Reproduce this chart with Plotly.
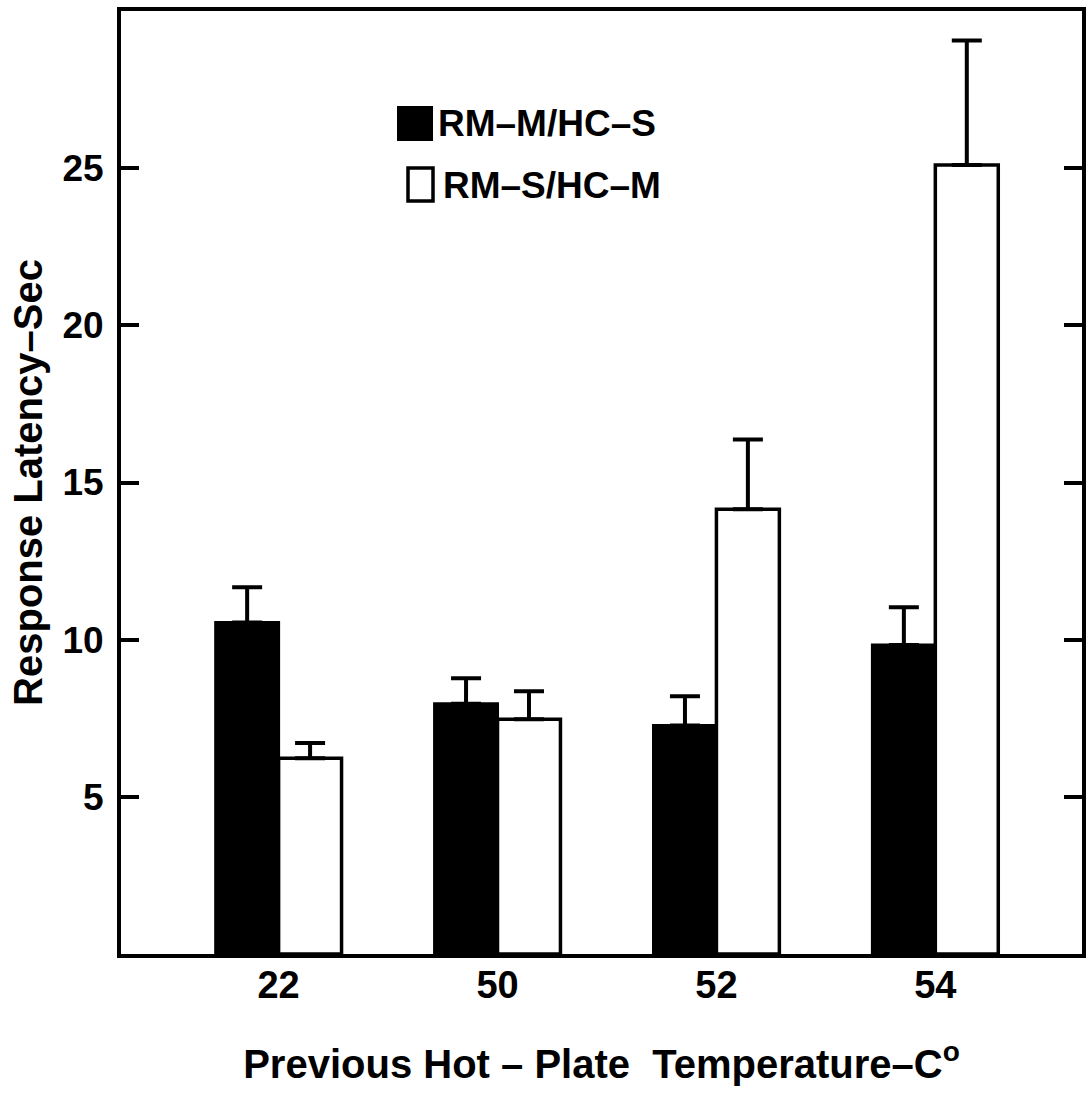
import plotly.graph_objects as go

# ---- data ----
categories = ["22", "50", "52", "54"]
series_names = ["RM–M/HC–S", "RM–S/HC–M"]
rm_m_hc_s = [10.55, 7.96, 7.27, 9.83]
rm_m_hc_s_err = [1.12, 0.81, 0.93, 1.20]
rm_s_hc_m = [6.23, 7.47, 14.15, 25.10]
rm_s_hc_m_err = [0.48, 0.89, 2.22, 3.96]
y_tick_values = [5, 10, 15, 20, 25]
y_tick_labels = ["5", "10", "15", "20", "25"]

FONT = "Liberation Sans, Arial, sans-serif"

fig = go.Figure()
fig.add_trace(go.Bar(
    x=categories, y=rm_m_hc_s, name=series_names[0],
    marker=dict(color="black", line=dict(color="black", width=3)),
    error_y=dict(type="data", symmetric=False, array=rm_m_hc_s_err,
                 arrayminus=[0] * len(rm_m_hc_s_err),
                 color="black", thickness=4, width=15),
))
fig.add_trace(go.Bar(
    x=categories, y=rm_s_hc_m, name=series_names[1],
    marker=dict(color="white", line=dict(color="black", width=3.5)),
    error_y=dict(type="data", symmetric=False, array=rm_s_hc_m_err,
                 arrayminus=[0] * len(rm_s_hc_m_err),
                 color="black", thickness=4, width=15),
))

# ---- hand-made legend (paper coords) ----
L, R, T, B = 121, 1082, 11, 954
def px(x):
    return (x - L) / (R - L)
def py(y):
    return (B - y) / (B - T)

fig.add_shape(type="rect", xref="paper", yref="paper",
              x0=px(398), x1=px(432), y0=py(140), y1=py(107),
              fillcolor="black", line=dict(color="black", width=2))
fig.add_shape(type="rect", xref="paper", yref="paper",
              x0=px(408), x1=px(433), y0=py(201), y1=py(168),
              fillcolor="white", line=dict(color="black", width=3.5))
fig.add_annotation(xref="paper", yref="paper", x=px(436), y=py(124),
                   text="<b>" + series_names[0] + "</b>", showarrow=False,
                   xanchor="left", yanchor="middle",
                   font=dict(family=FONT, size=37, color="black"))
fig.add_annotation(xref="paper", yref="paper", x=px(441), y=py(186),
                   text="<b>" + series_names[1] + "</b>", showarrow=False,
                   xanchor="left", yanchor="middle",
                   font=dict(family=FONT, size=37, color="black"))

fig.update_layout(
    width=1087, height=1099,
    margin=dict(l=L, r=1087 - R, t=T, b=1099 - B, autoexpand=False),
    paper_bgcolor="white", plot_bgcolor="white",
    barmode="group", bargap=0.425, bargroupgap=0,
    showlegend=False,
    font=dict(family=FONT, color="black"),
)
fig.update_xaxes(
    type="category", range=[-0.72, 3.67],
    showline=True, linecolor="black", linewidth=4, mirror=True,
    ticks="", showgrid=False, zeroline=False,
    tickfont=dict(family=FONT, size=38, color="black", weight="bold"),
    ticklabelstandoff=-6,
    title=dict(text="<b>Previous Hot – Plate  Temperature–C<sup>o</sup></b>",
               font=dict(family=FONT, size=40, color="black"), standoff=46),
)
fig.update_yaxes(
    range=[0, 30], tickvals=y_tick_values, ticktext=y_tick_labels,
    showline=True, linecolor="black", linewidth=4, mirror="ticks",
    ticks="inside", ticklen=18, tickwidth=4, tickcolor="black",
    showgrid=False, zeroline=False,
    tickfont=dict(family=FONT, size=37, color="black", weight="bold"),
    ticklabelstandoff=6,
    title=dict(text="<b>Response Latency–Sec</b>",
               font=dict(family=FONT, size=40, color="black"), standoff=8),
)

fig.write_html("out.html")
